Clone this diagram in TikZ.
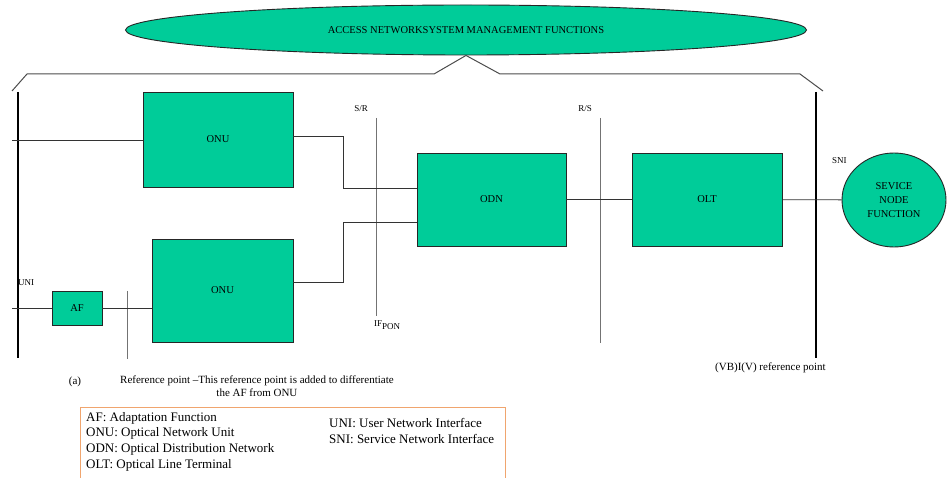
\documentclass[tikz,border=0pt]{standalone}
\usepackage{fontspec}
\setmainfont{Liberation Serif}
\usetikzlibrary{shapes.geometric}
\definecolor{boxgreen}{RGB}{0,204,153}
\definecolor{legendorange}{RGB}{240,165,110}
\definecolor{refgray}{RGB}{115,115,115}
\begin{document}
\begin{tikzpicture}[x=1pt,y=-1pt,
  unit/.style={draw=black!85, fill=boxgreen, line width=0.9pt, font=\fontsize{10.5}{12}\selectfont},
  oval/.style={ellipse, draw=black!85, fill=boxgreen, line width=0.9pt, inner sep=0pt},
  refline/.style={draw=refgray, line width=0.9pt},
  link/.style={draw=black!80, line width=0.8pt},
  iface/.style={line width=2.6pt},
  lbl/.style={font=\fontsize{9}{10}\selectfont, inner sep=0pt}]
\clip (0,0) rectangle (950,478);
\useasboundingbox (0,0) rectangle (950,478);
% management plane
\node[oval, minimum width=681pt, minimum height=50pt, font=\fontsize{10.5}{12}\selectfont] (mgmt) at (466,30) {ACCESS NETWORKSYSTEM MANAGEMENT FUNCTIONS};
\draw[draw=black!70, line width=1pt] (12,91) -- (27,74) -- (434,74) -- (mgmt.south) -- (500,74) -- (800,74) -- (823,91);
% blocks
\node[unit, minimum width=150pt, minimum height=95pt] (onuA) at (218,139.5) {ONU};
\node[unit, minimum width=141pt, minimum height=103pt] (onuB) at (222.5,290.5) {ONU};
\node[unit, minimum width=50pt, minimum height=34pt] (af) at (77,308) {AF};
\node[unit, minimum width=149pt, minimum height=93pt] (odn) at (491.5,199.5) {ODN};
\node[unit, minimum width=150pt, minimum height=93pt] (olt) at (707,199.5) {OLT};
\node[oval, minimum width=104pt, minimum height=94pt, align=center, font=\fontsize{10.5}{14}\selectfont] (snf) at (894,200) {SEVICE\\NODE\\FUNCTION};
% UNI and SNI
\draw[iface] (18,92) -- (18,358);
\draw[iface] (816,92) -- (816,358);
\node[lbl, anchor=west] (uni) at (18,283) {UNI};
\node[lbl, anchor=west] (sni) at (832,161) {SNI};
% reference points
\draw[refline] (376,118) -- (376,316);
\draw[refline] (600,118) -- (600,343);
\draw[refline] (127,291) -- (127,359);
\node[lbl] (sr) at (361,109) {S/R};
\node[lbl] (rs) at (585,109) {R/S};
\node[lbl, anchor=west] (ifpon) at (374,325) {IF\raisebox{-0.6ex}{PON}};
% connections
\coordinate (uniA) at (12,140);
\coordinate (uniB) at (12,308);
\draw[link] (uniA) -- (uniA -| onuA.west);
\draw[link] (uniB) -- (af.west);
\draw[link] (af.east) -- (af.east -| onuB.west);
\draw[link] ([yshift=3.5pt]onuA.east) -- ++(50,0) |- ([yshift=11.5pt]odn.west);
\draw[link] ([yshift=8.5pt]onuB.east) -- ++(50,0) |- ([yshift=-22.5pt]odn.west);
\draw[link] (odn) -- (olt);
\draw[link] (olt) -- (snf);
% notes
\node[lbl, font=\fontsize{11}{12}\selectfont] (a) at (75,382) {(a)};
\node[lbl, font=\fontsize{11}{12.5}\selectfont, align=center, anchor=north west] (refnote) at (120,376) {Reference point --This reference point is added to differentiate\\the AF from ONU};
\node[lbl, font=\fontsize{11}{12}\selectfont, anchor=west] (vbv) at (715,368) {(VB)I(V) reference point};
% legend
\draw[draw=legendorange, line width=1pt] (80,407) rectangle (505,490);
\node[lbl, font=\fontsize{13}{15.7}\selectfont, align=left, anchor=north west] (legL) at (86,412) {AF: Adaptation Function\\ONU: Optical Network Unit\\ODN: Optical Distribution Network\\OLT: Optical Line Terminal};
\node[lbl, font=\fontsize{13}{15.7}\selectfont, align=left, anchor=north west] (legR) at (329,418) {UNI: User Network Interface\\SNI: Service Network Interface};
\end{tikzpicture}
\end{document}
